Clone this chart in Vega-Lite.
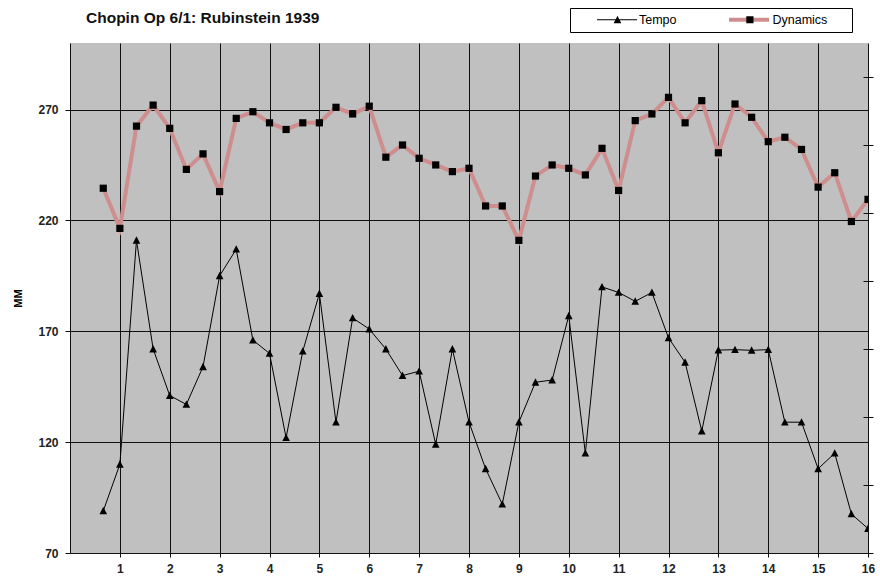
{
  "$schema": "https://vega.github.io/schema/vega-lite/v6.json",
  "width": 798,
  "height": 510,
  "autosize": {"type": "none"},
  "padding": {"left": 70, "top": 43, "right": 12, "bottom": 23},
  "background": "white",
  "title": {
    "text": "Chopin Op 6/1: Rubinstein 1939",
    "anchor": "start",
    "frame": "group",
    "dx": 16,
    "dy": 13,
    "offset": -6,
    "font": "Liberation Sans",
    "fontSize": 15.5,
    "fontWeight": "bold",
    "color": "#111111"
  },
  "config": {
    "view": {"fill": "#c0c0c0", "stroke": null},
    "axis": {
      "labelFont": "Liberation Sans",
      "labelFontSize": 12,
      "labelFontWeight": "bold",
      "labelColor": "#222222",
      "titleFont": "Liberation Sans",
      "domainColor": "#111111",
      "tickColor": "#111111",
      "gridColor": "#111111",
      "gridOpacity": 1,
      "gridWidth": 1
    },
    "legend": {
      "labelFont": "Liberation Sans",
      "labelFontSize": 12.5,
      "labelColor": "#000000"
    }
  },
  "data": {
    "values": [
      {"x": 0.667, "series": "Tempo", "value": 89},
      {"x": 1, "series": "Tempo", "value": 110},
      {"x": 1.333, "series": "Tempo", "value": 211},
      {"x": 1.667, "series": "Tempo", "value": 162},
      {"x": 2, "series": "Tempo", "value": 141},
      {"x": 2.333, "series": "Tempo", "value": 137},
      {"x": 2.667, "series": "Tempo", "value": 154},
      {"x": 3, "series": "Tempo", "value": 195},
      {"x": 3.333, "series": "Tempo", "value": 207},
      {"x": 3.667, "series": "Tempo", "value": 166},
      {"x": 4, "series": "Tempo", "value": 160},
      {"x": 4.333, "series": "Tempo", "value": 122},
      {"x": 4.667, "series": "Tempo", "value": 161},
      {"x": 5, "series": "Tempo", "value": 187},
      {"x": 5.333, "series": "Tempo", "value": 129},
      {"x": 5.667, "series": "Tempo", "value": 176},
      {"x": 6, "series": "Tempo", "value": 171},
      {"x": 6.333, "series": "Tempo", "value": 162},
      {"x": 6.667, "series": "Tempo", "value": 150},
      {"x": 7, "series": "Tempo", "value": 152},
      {"x": 7.333, "series": "Tempo", "value": 119},
      {"x": 7.667, "series": "Tempo", "value": 162},
      {"x": 8, "series": "Tempo", "value": 129},
      {"x": 8.333, "series": "Tempo", "value": 108},
      {"x": 8.667, "series": "Tempo", "value": 92},
      {"x": 9, "series": "Tempo", "value": 129},
      {"x": 9.333, "series": "Tempo", "value": 147},
      {"x": 9.667, "series": "Tempo", "value": 148},
      {"x": 10, "series": "Tempo", "value": 177},
      {"x": 10.333, "series": "Tempo", "value": 115},
      {"x": 10.667, "series": "Tempo", "value": 190},
      {"x": 11, "series": "Tempo", "value": 187.5},
      {"x": 11.333, "series": "Tempo", "value": 183.5},
      {"x": 11.667, "series": "Tempo", "value": 187.5},
      {"x": 12, "series": "Tempo", "value": 167},
      {"x": 12.333, "series": "Tempo", "value": 156},
      {"x": 12.667, "series": "Tempo", "value": 125},
      {"x": 13, "series": "Tempo", "value": 161.5},
      {"x": 13.333, "series": "Tempo", "value": 161.7},
      {"x": 13.667, "series": "Tempo", "value": 161.4},
      {"x": 14, "series": "Tempo", "value": 161.7},
      {"x": 14.333, "series": "Tempo", "value": 129},
      {"x": 14.667, "series": "Tempo", "value": 129},
      {"x": 15, "series": "Tempo", "value": 108},
      {"x": 15.333, "series": "Tempo", "value": 115},
      {"x": 15.667, "series": "Tempo", "value": 87.6},
      {"x": 16, "series": "Tempo", "value": 81},
      {"x": 0.667, "series": "Dynamics", "value": 234.5},
      {"x": 1, "series": "Dynamics", "value": 216.4},
      {"x": 1.333, "series": "Dynamics", "value": 262.5},
      {"x": 1.667, "series": "Dynamics", "value": 272},
      {"x": 2, "series": "Dynamics", "value": 261.5},
      {"x": 2.333, "series": "Dynamics", "value": 243},
      {"x": 2.667, "series": "Dynamics", "value": 250},
      {"x": 3, "series": "Dynamics", "value": 233},
      {"x": 3.333, "series": "Dynamics", "value": 266},
      {"x": 3.667, "series": "Dynamics", "value": 269},
      {"x": 4, "series": "Dynamics", "value": 264},
      {"x": 4.333, "series": "Dynamics", "value": 261},
      {"x": 4.667, "series": "Dynamics", "value": 264},
      {"x": 5, "series": "Dynamics", "value": 264},
      {"x": 5.333, "series": "Dynamics", "value": 271},
      {"x": 5.667, "series": "Dynamics", "value": 268},
      {"x": 6, "series": "Dynamics", "value": 271.5},
      {"x": 6.333, "series": "Dynamics", "value": 248.5},
      {"x": 6.667, "series": "Dynamics", "value": 254},
      {"x": 7, "series": "Dynamics", "value": 248},
      {"x": 7.333, "series": "Dynamics", "value": 245},
      {"x": 7.667, "series": "Dynamics", "value": 242},
      {"x": 8, "series": "Dynamics", "value": 243.5},
      {"x": 8.333, "series": "Dynamics", "value": 226.5},
      {"x": 8.667, "series": "Dynamics", "value": 226.5},
      {"x": 9, "series": "Dynamics", "value": 211},
      {"x": 9.333, "series": "Dynamics", "value": 240},
      {"x": 9.667, "series": "Dynamics", "value": 245},
      {"x": 10, "series": "Dynamics", "value": 243.5},
      {"x": 10.333, "series": "Dynamics", "value": 240.5},
      {"x": 10.667, "series": "Dynamics", "value": 252.5},
      {"x": 11, "series": "Dynamics", "value": 233.5},
      {"x": 11.333, "series": "Dynamics", "value": 265},
      {"x": 11.667, "series": "Dynamics", "value": 268},
      {"x": 12, "series": "Dynamics", "value": 275.5},
      {"x": 12.333, "series": "Dynamics", "value": 264},
      {"x": 12.667, "series": "Dynamics", "value": 274},
      {"x": 13, "series": "Dynamics", "value": 250.5},
      {"x": 13.333, "series": "Dynamics", "value": 272.5},
      {"x": 13.667, "series": "Dynamics", "value": 266.5},
      {"x": 14, "series": "Dynamics", "value": 255.5},
      {"x": 14.333, "series": "Dynamics", "value": 257.5},
      {"x": 14.667, "series": "Dynamics", "value": 252},
      {"x": 15, "series": "Dynamics", "value": 235},
      {"x": 15.333, "series": "Dynamics", "value": 241.5},
      {"x": 15.667, "series": "Dynamics", "value": 219.5},
      {"x": 16, "series": "Dynamics", "value": 229.5}
    ]
  },
  "layer": [
    {
      "mark": {"type": "line", "clip": true},
      "encoding": {
        "x": {
          "field": "x",
          "type": "quantitative",
          "scale": {"domain": [0, 16], "nice": false, "zero": false},
          "axis": {
            "title": null,
            "values": [1, 2, 3, 4, 5, 6, 7, 8, 9, 10, 11, 12, 13, 14, 15, 16],
            "grid": true,
            "tickSize": 4,
            "labelPadding": 6,
            "labelFlush": false,
            "domain": true
          }
        },
        "y": {
          "field": "value",
          "type": "quantitative",
          "scale": {"domain": [70, 300], "nice": false, "zero": false},
          "axis": {
            "orient": "left",
            "title": "MM",
            "titleFontSize": 11,
            "titleFontWeight": "bold",
            "titleColor": "#000000",
            "titlePadding": 14,
            "values": [70, 120, 170, 220, 270],
            "grid": true,
            "tickSize": 5,
            "labelPadding": 7,
            "labelFlush": false
          }
        },
        "color": {
          "field": "series",
          "type": "nominal",
          "scale": {"domain": ["Tempo", "Dynamics"], "range": ["#000000", "#cf8e8e"]},
          "legend": {
            "orient": "none",
            "legendX": 500,
            "legendY": -35,
            "direction": "horizontal",
            "title": " ",
            "titleOrient": "right",
            "titleFontSize": 10,
            "titlePadding": 19,
            "symbolType": "stroke",
            "symbolSize": 1600,
            "symbolOffset": 21,
            "labelOffset": 1.5,
            "columnPadding": 28.5,
            "clipHeight": 12,
            "padding": 5.5,
            "fillColor": "#ffffff",
            "strokeColor": "#000000",
            "zindex": 0
          }
        },
        "strokeWidth": {
          "field": "series",
          "type": "nominal",
          "scale": {"domain": ["Tempo", "Dynamics"], "range": [1, 4]}
        }
      }
    },
    {
      "mark": {"type": "point", "filled": true, "color": "#000000", "size": 1600, "opacity": 1, "clip": true},
      "encoding": {
        "x": {
          "field": "x",
          "type": "quantitative",
          "scale": {"domain": [0, 16], "nice": false, "zero": false},
          "axis": {
            "title": null,
            "values": [1, 2, 3, 4, 5, 6, 7, 8, 9, 10, 11, 12, 13, 14, 15, 16],
            "grid": true,
            "tickSize": 4,
            "labelPadding": 6,
            "labelFlush": false,
            "domain": true
          }
        },
        "y": {
          "field": "value",
          "type": "quantitative",
          "scale": {"domain": [70, 300], "nice": false, "zero": false},
          "axis": {
            "orient": "right",
            "title": null,
            "labels": false,
            "grid": false,
            "domain": false,
            "offset": -5,
            "tickSize": 10,
            "values": [70, 100.67, 131.33, 162, 192.67, 223.33, 254, 284.67]
          }
        },
        "shape": {
          "field": "series",
          "type": "nominal",
          "sort": ["Tempo", "Dynamics"],
          "scale": {
            "range": [
              "M-0.19,0.17L0,-0.2L0.19,0.17Z",
              "M-0.18,-0.18H0.18V0.18H-0.18Z"
            ]
          },
          "legend": {
            "orient": "none",
            "legendX": 500,
            "legendY": -35,
            "direction": "horizontal",
            "title": null,
            "symbolSize": 1600,
            "symbolOffset": 22,
            "symbolFillColor": "#000000",
            "symbolStrokeColor": "#000000",
            "symbolStrokeWidth": 0,
            "labelOffset": 1.5,
            "labelExpr": "''",
            "columnPadding": 68.4,
            "clipHeight": 12,
            "padding": 5.5,
            "zindex": 1
          }
        }
      }
    }
  ],
  "resolve": {"axis": {"y": "independent"}}
}
